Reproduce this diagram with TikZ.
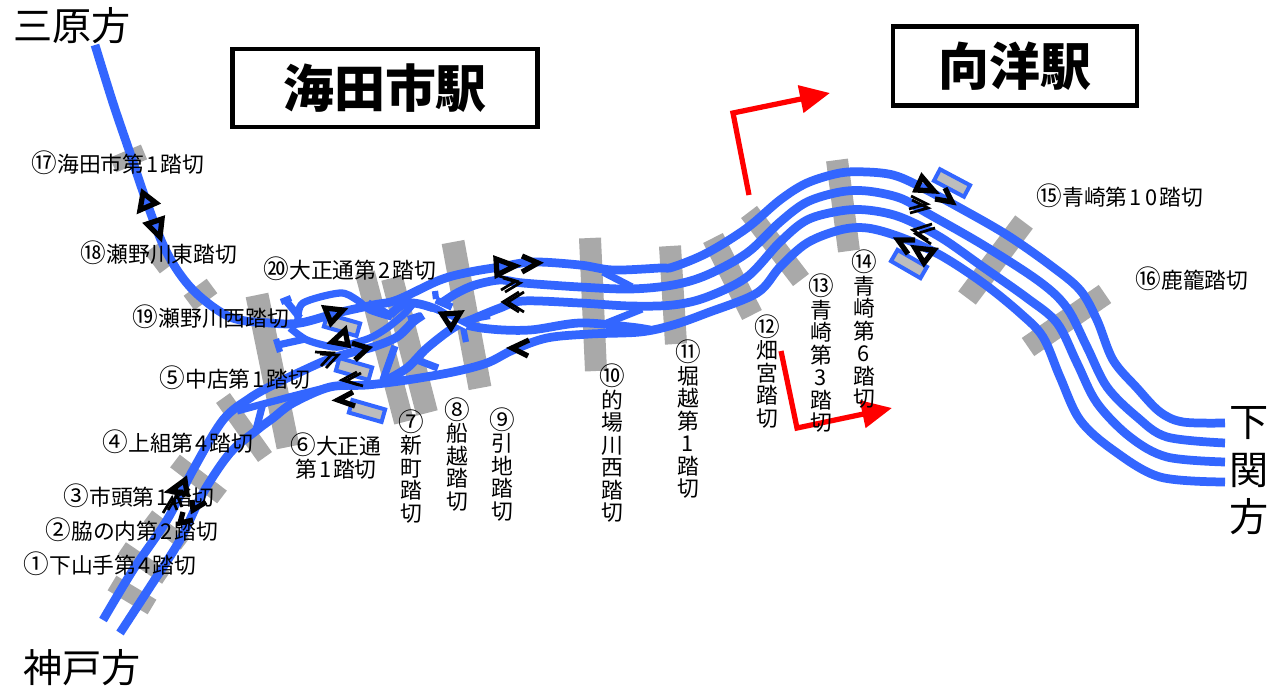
\documentclass[tikz,border=0pt]{standalone}
\usepackage{fontspec}
\usetikzlibrary{arrows.meta}
\newfontfamily\jp{Noto Sans CJK JP}
\definecolor{trk}{HTML}{3366FF}
\definecolor{tiegray}{HTML}{A9A9A9}
\definecolor{platgray}{HTML}{BDBDBD}
\tikzset{
  track/.style={draw=trk,line width=0.175cm,line join=round},
  trackb/.style={draw=trk,line width=0.145cm,line join=round},
  stub/.style={draw=trk,line width=0.125cm},
  tie/.style={draw=tiegray},
  plat/.style={draw=trk,fill=platgray,line width=0.08cm,minimum width=0.68cm,minimum height=0.26cm,inner sep=0pt},
  sig/.style={draw=black,line width=0.105cm,miter limit=10},
  dbl/.style={draw=black,line width=0.055cm},
  redarrow/.style={draw=red,line width=0.105cm,-{Triangle[length=0.6cm,width=0.54cm,fill=red]}},
  lab/.style={font=\jp\fontsize{12.4}{12.8}\selectfont,inner sep=0pt,text=black,align=center},
  big/.style={font=\jp\fontsize{22.3}{27}\selectfont,inner sep=0pt,text=black,align=center},
  titlebox/.style={draw=black,line width=0.085cm,fill=white,inner sep=0pt,font=\jp\bfseries\fontsize{29}{30}\selectfont,text=black},
}
\newcommand{\dchev}[4]{\draw[dbl] #1--#2--#3; \draw[dbl,shift={#4}] #1--#2--#3;}
\newcommand{\cn}[1]{\smash{\fontsize{14.6}{12.8}\selectfont #1}}
\newcommand{\dg}[1]{\hbox to 0.74em{\hss #1\hss}}
\begin{document}
\begin{tikzpicture}[x=0.02cm,y=-0.02cm]
\useasboundingbox (0,0) rectangle (1286,690);
% level crossings
\draw[tie,line width=0.32cm] (113,165)--(144,152);
\draw[tie,line width=0.36cm] (152,248)--(167,268);
\draw[tie,line width=0.36cm] (189,303)--(212,286);
\draw[tie,line width=0.46cm] (257,295)--(288,447);
\draw[tie,line width=0.34cm] (223,398)--(265,457);
\draw[tie,line width=0.32cm] (175,461)--(222,497);
\draw[tie,line width=0.28cm] (148,516)--(185,544);
\draw[tie,line width=0.28cm] (122,548)--(166,578);
\draw[tie,line width=0.34cm] (112,583)--(152,607);
\draw[tie,line width=0.40cm] (365,273)--(404,422);
\draw[tie,line width=0.44cm] (392,278)--(427,413);
\draw[tie,line width=0.46cm] (453,242)--(480,388);
\draw[tie,line width=0.44cm] (590,238)--(596,371);
\draw[tie,line width=0.44cm] (670,246)--(676,344);
\draw[tie,line width=0.44cm] (713,238)--(752,315);
\draw[tie,line width=0.40cm] (749,212)--(801,280);
\draw[tie,line width=0.44cm] (837,160)--(849,251);
\draw[tie,line width=0.44cm] (1024,222)--(967,298);
\draw[tie,line width=0.44cm] (1105,294)--(1028,347);
% platforms
\node[plat,rotate=-16] (p1) at (342,325) {};
\node[plat,rotate=-16] (p2) at (354,369) {};
\node[plat,rotate=-16] (p3) at (367,411) {};
\node[plat,rotate=-28] (p4) at (952,183) {};
\node[plat,rotate=-30] (p5) at (909,264) {};
% tracks
\draw[track] plot[smooth,tension=0.55] coordinates {(95,45)(113,103)(130,153)(147,203)(167,253)(193,290)(230,317)(270,323)(300,323)(337,313)(373,305)(397,300)(440,280)(470,272)(500,267)(533,262)(580,265)(613,270)(660,268)(673,267)(707,253)(747,228)(780,200)(807,183)(840,173)(867,172)(893,175)(917,185)(960,208)(1007,235)(1050,265)(1080,290)(1097,320)(1113,360)(1137,388)(1160,412)(1183,422)(1225,423)};
\draw[track] plot[smooth,tension=0.55] coordinates {(443,302)(457,293)(475,285)(500,280)(523,283)(580,287)(630,289)(673,285)(707,275)(747,253)(780,222)(807,202)(840,192)(867,191)(900,198)(927,213)(983,245)(1040,282)(1067,308)(1087,347)(1107,387)(1137,417)(1167,437)(1225,443)};
\draw[track] plot[smooth,tension=0.55] coordinates {(383,382)(407,368)(427,348)(453,328)(473,319)(500,308)(523,301)(580,303)(630,306)(673,305)(707,297)(747,277)(780,242)(807,220)(840,211)(867,210)(900,217)(940,237)(983,267)(1027,298)(1057,323)(1077,363)(1097,403)(1130,437)(1167,457)(1225,462)};
\draw[track] plot[smooth,tension=0.55] coordinates {(120,633)(150,587)(180,540)(203,493)(230,453)(257,430)(273,418)(293,403)(330,387)(367,385)(407,380)(453,372)(487,363)(513,350)(547,338)(590,334)(640,332)(673,325)(707,313)(757,293)(780,267)(807,243)(840,230)(867,228)(900,237)(940,255)(983,283)(1020,313)(1043,337)(1060,377)(1080,420)(1113,450)(1160,477)(1225,482)};
\draw[track] plot[smooth,tension=0.55] coordinates {(103,620)(133,570)(167,520)(193,470)(223,420)(250,398)(273,385)(300,372)(327,360)(353,352)(373,347)(397,337)(413,322)(423,315)};
\draw[trackb] plot[smooth,tension=0.55] coordinates {(237,411)(263,404)(297,395)(325,388)};
\draw[trackb] (263,403)--(256,430);
\draw[track] plot[smooth,tension=0.55] coordinates {(390,315)(407,303)(433,308)(460,323)(490,329)(530,330)(580,323)(630,327)(650,330)};
\draw[trackb] plot[smooth,tension=0.5] coordinates {(290,328)(307,340)(333,347)(347,345)(370,338)(387,328)(403,315)(412,305)};
\draw[trackb] (278,345)--(305,339);
\draw[trackb] plot[smooth,tension=0.5] coordinates {(298,320)(303,303)(340,293)(357,300)(370,310)(392,317)};
\draw[trackb] (368,303)--(392,316);
\draw[trackb] (287,302)--(300,318);
\draw[stub] (281,302)--(291,298);
\draw[stub] (276,339)--(280,352);
\draw[trackb] (395,346)--(383,380);
\draw[trackb] (417,360)--(438,368);
\draw[trackb] (603,272)--(632,287);
\draw[trackb] (607,323)--(642,309);
\draw[stub] (436,299)--(435,291);
\draw[stub] (408,319)--(421,315);
\draw[stub] (467,320)--(490,316);
\draw[stub] (455,322)--(463,327)--(466,342);
\draw[white,line width=0.035cm] (416,311)--(433,313)--(450,320)--(466,328);
\draw[trackb] (436,300)--(452,307);
% signals
\draw[sig] (143,193)--(156,203)--(140,210)--cycle;
\draw[sig] (162,219)--(147,224)--(160,237)--cycle;
\draw[sig] (325,308)--(343,310)--(331,323)--cycle;
\draw[sig] (332,342)--(345,330)--(348,345)--cycle;
\draw[sig] (352,343)--(368,348)--(355,360);
\dchev{(320,354)}{(338,355)}{(326,368)}{(-5,-2)}
\dchev{(361,373)}{(346,381)}{(363,386)}{(-4,-1)}
\draw[sig] (353,392)--(338,400)--(355,406);
\draw[sig] (496,259)--(515,266)--(497,275)--cycle;
\draw[sig] (522,256)--(538,263)--(522,272);
\dchev{(503,278)}{(520,283)}{(505,292)}{(-4,-2)}
\dchev{(524,292)}{(508,302)}{(524,312)}{(-5,0)}
\draw[sig] (529,340)--(512,348)--(528,356);
\draw[sig] (442,314)--(460,313)--(451,328)--cycle;
\draw[sig] (922,177)--(934,191)--(916,190)--cycle;
\draw[sig] (945,188)--(952,202)--(935,199);
\dchev{(912,200)}{(928,208)}{(910,213)}{(-1,-4)}
\dchev{(932,224)}{(913,230)}{(928,240)}{(3,4)}
\draw[sig] (915,240)--(898,240)--(908,254);
\draw[sig] (915,248)--(934,250)--(924,263)--cycle;
\draw[sig] (185,480)--(170,491)--(187,494)--cycle;
\dchev{(163,513)}{(172,498)}{(177,510)}{(5,-3)}
\draw[sig] (192,500)--(193,510)--(206,502);
\draw[sig] (183,512)--(180,523)--(193,520);
% red arrows
\draw[redarrow] (749,195)--(733,113)--(830,93);
\draw[redarrow] (781,351)--(797,428)--(892,408);
% title boxes
\node[titlebox,minimum width=6.1cm,minimum height=1.56cm] (kaita) at (385,88) {海田市駅};
\node[titlebox,minimum width=4.88cm,minimum height=1.58cm] (mukai) at (1015,66) {向洋駅};
% big labels
\node[big] (mihara) at (72,26) {三原方};
\node[big] (kobe) at (82,668) {神戸方};
\node[big] (shimo) at (1249,471) {下\\関\\方};
% labels
\node[lab] (n17) at (118,164) {\cn{⑰}海田市第\dg{1}踏切};
\node[lab] (n18) at (159,254) {\cn{⑱}瀬野川東踏切};
\node[lab] (n20) at (350,270) {\cn{⑳}大正通第\dg{2}踏切};
\node[lab] (n19) at (211,318) {\cn{⑲}瀬野川西踏切};
\node[lab] (n5) at (235,379) {\cn{⑤}中店第\dg{1}踏切};
\node[lab] (n4) at (178,443) {\cn{④}上組第\dg{4}踏切};
\node[lab,align=center] (n6) at (336,458) {\cn{⑥}大正通\\第\dg{1}踏切};
\node[lab] (n3) at (139,497) {\cn{③}市頭第\dg{1}踏切};
\node[lab] (n2) at (132,531) {\cn{②}脇の内第\dg{2}踏切};
\node[lab] (n1) at (110,565) {\cn{①}下山手第\dg{4}踏切};
\node[lab] (n15) at (1120,197) {\cn{⑮}青崎第\dg{1}\dg{0}踏切};
\node[lab] (n16) at (1192,280) {\cn{⑯}鹿籠踏切};
\node[lab] (n7) at (411,477) {\cn{⑦}\\新\\町\\踏\\切};
\node[lab] (n8) at (457,465) {\cn{⑧}\\船\\越\\踏\\切};
\node[lab] (n9) at (502,475) {\cn{⑨}\\引\\地\\踏\\切};
\node[lab] (n10) at (612,454) {\cn{⑩}\\的\\場\\川\\西\\踏\\切};
\node[lab] (n11) at (688,430) {\cn{⑪}\\堀\\越\\第\\1\\踏\\切};
\node[lab] (n12) at (767,382) {\cn{⑫}\\畑\\宮\\踏\\切};
\node[lab] (n13) at (821,364) {\cn{⑬}\\青\\崎\\第\\3\\踏\\切};
\node[lab] (n14) at (864,340) {\cn{⑭}\\青\\崎\\第\\6\\踏\\切};
\end{tikzpicture}
\end{document}
